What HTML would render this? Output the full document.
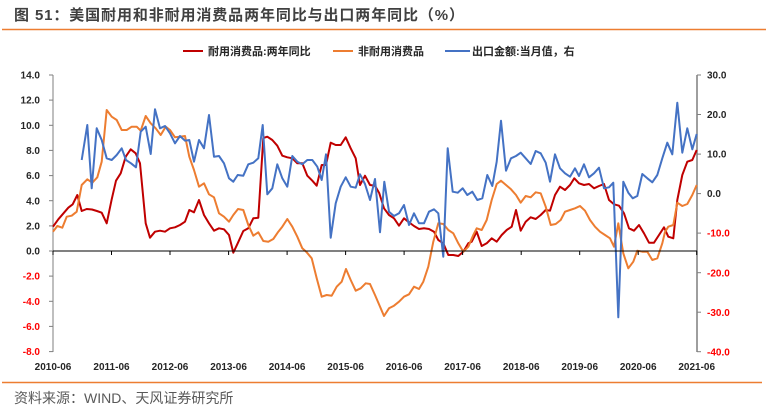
<!DOCTYPE html>
<html><head><meta charset="utf-8"><style>
html,body{margin:0;padding:0;background:#fff;}
svg{display:block;}
text{font-family:"Liberation Sans","Noto Sans CJK SC",sans-serif;}
</style></head><body>
<svg width="770" height="414" viewBox="0 0 770 414" xmlns="http://www.w3.org/2000/svg">
<rect width="770" height="414" fill="#fff"/>
<!-- title -->
<text x="14" y="20" font-size="15" font-weight="bold" fill="#404040" textLength="450" lengthAdjust="spacing">图 51：美国耐用和非耐用消费品两年同比与出口两年同比（%）</text>
<line x1="2" y1="29.5" x2="766" y2="29.5" stroke="#ed7d31" stroke-width="1.5"/>
<!-- legend -->
<line x1="183" y1="51" x2="203" y2="51" stroke="#c00000" stroke-width="2"/>
<text x="208" y="55" font-size="11" font-weight="bold" fill="#262626">耐用消费品:两年同比</text>
<line x1="333" y1="51" x2="353" y2="51" stroke="#ed7d31" stroke-width="2"/>
<text x="358" y="55" font-size="11" font-weight="bold" fill="#262626">非耐用消费品</text>
<line x1="445" y1="51" x2="470" y2="51" stroke="#4472c4" stroke-width="2"/>
<text x="472" y="55" font-size="11" font-weight="bold" fill="#262626">出口金额:当月值，右</text>

<!-- left axis -->
<line x1="53" y1="75" x2="53" y2="352" stroke="#7f7f7f" stroke-width="1"/>
<g stroke="#7f7f7f" stroke-width="1">
<line x1="49" y1="75" x2="53" y2="75"/><line x1="49" y1="100.1" x2="53" y2="100.1"/><line x1="49" y1="125.3" x2="53" y2="125.3"/><line x1="49" y1="150.4" x2="53" y2="150.4"/><line x1="49" y1="175.6" x2="53" y2="175.6"/><line x1="49" y1="200.7" x2="53" y2="200.7"/><line x1="49" y1="225.9" x2="53" y2="225.9"/><line x1="49" y1="251" x2="53" y2="251"/><line x1="49" y1="276.1" x2="53" y2="276.1"/><line x1="49" y1="301.3" x2="53" y2="301.3"/><line x1="49" y1="326.4" x2="53" y2="326.4"/><line x1="49" y1="351.6" x2="53" y2="351.6"/>
</g>
<g font-size="10" font-weight="bold" text-anchor="end">
<text x="40" y="78.6" fill="#262626">14.0</text>
<text x="40" y="103.7" fill="#262626">12.0</text>
<text x="40" y="128.9" fill="#262626">10.0</text>
<text x="40" y="154" fill="#262626">8.0</text>
<text x="40" y="179.2" fill="#262626">6.0</text>
<text x="40" y="204.3" fill="#262626">4.0</text>
<text x="40" y="229.5" fill="#262626">2.0</text>
<text x="40" y="254.6" fill="#262626">0.0</text>
<text x="40" y="279.7" fill="#ff0000">-2.0</text>
<text x="40" y="304.9" fill="#ff0000">-4.0</text>
<text x="40" y="330" fill="#ff0000">-6.0</text>
<text x="40" y="355.2" fill="#ff0000">-8.0</text>
</g>
<!-- right axis -->
<line x1="697" y1="75" x2="697" y2="352" stroke="#7f7f7f" stroke-width="1.5"/>
<g stroke="#7f7f7f" stroke-width="1">
<line x1="697" y1="75" x2="701" y2="75"/><line x1="697" y1="114.5" x2="701" y2="114.5"/><line x1="697" y1="154.1" x2="701" y2="154.1"/><line x1="697" y1="193.6" x2="701" y2="193.6"/><line x1="697" y1="233.1" x2="701" y2="233.1"/><line x1="697" y1="272.7" x2="701" y2="272.7"/><line x1="697" y1="312.2" x2="701" y2="312.2"/><line x1="697" y1="351.7" x2="701" y2="351.7"/>
</g>
<g font-size="10" font-weight="bold">
<text x="707" y="78.6" fill="#262626">30.0</text>
<text x="707" y="118.1" fill="#262626">20.0</text>
<text x="707" y="157.7" fill="#262626">10.0</text>
<text x="707" y="197.2" fill="#262626">0.0</text>
<text x="707" y="236.7" fill="#ff0000">-10.0</text>
<text x="707" y="276.3" fill="#ff0000">-20.0</text>
<text x="707" y="315.8" fill="#ff0000">-30.0</text>
<text x="707" y="355.3" fill="#ff0000">-40.0</text>
</g>

<!-- series -->
<g fill="none" stroke-width="2" stroke-linejoin="round">
<polyline stroke="#c00000" points="53,226.7 58.3,219.3 64,212.7 68.3,207.7 72.7,204.3 77.3,195 81.7,211 86.7,209 92,209.5 96.9,211 101.7,212.7 106.7,223.3 111.7,199.3 116,180.7 120.7,173.3 125.7,156.7 130.7,149.3 135.7,153.3 140,163.3 145.7,223.3 150,237.7 155,231.7 160,230.7 165,231.7 170,228.3 175,227.3 180,225 185,221.7 189.3,210 194,212.3 199,200 204,215 209,223.3 214,230.7 219,228.3 224,229.3 229,235 233.3,252.7 237.7,243.3 243.3,231 248.3,228.3 253.3,218.3 258.3,217.7 263.3,138 267.3,136.7 272.3,140 277.3,145.7 282.3,155.7 287.3,157.3 292.3,158.3 297.3,163.3 302.3,163.3 307.3,175.7 312.3,180.7 316.7,185.7 321.7,165 326,165 330.7,142.7 335.7,145 340.7,145 345.7,137.3 350.7,148.3 355.7,158.3 360,185 365,175.7 370,185 375,185.7 379.3,193.3 384,208.3 389,215 394,218.3 399,225.7 404,218.3 409,222.3 414,226 419,229 424,228.3 429,229 434,231.7 438.3,240 443.3,243.3 448.3,255 453.3,255 458.3,256 463.3,251.7 468.3,243.3 471.7,241.7 476.7,231.7 481.7,246 486.7,243.3 491.7,238.3 496.7,241.7 501.7,235 506.7,230 511.7,226.7 516,210 520.7,230.7 525.7,221.7 530.7,217.3 535.7,219 540.7,215 545.7,210 550,210.7 555,195 560,186.7 565,190 570,185 574.3,178.3 579,183.3 584,185 589,184 594,188.3 599,186 604,184 609,200 614,204.3 619,205.7 624,213.3 629,228.3 634,230.7 639,225 644,233.3 649,242.7 654,242.7 659,235 664,227.3 668.3,236.7 673.3,238.3 677.3,200 682.3,175 687.3,161.7 692.3,160 696.7,150"/>
<polyline stroke="#ed7d31" points="53,231.7 57.3,226 62.3,227.7 66.7,216.7 71.7,215.7 76.7,211.7 81.7,185 87.3,179.3 92.3,182.7 97.3,177.3 101.7,161.7 106.7,110 111.7,116.7 116.7,120 121.7,130 126.7,130 131.7,126.7 136.7,126.7 140.7,130.7 145.7,116 150.7,123.3 155.7,128.3 160.7,135 165.7,126.7 170,130 175,137.3 180,136.7 185,136 189.3,156.7 194,170 199,186.7 204,183.3 209,194.3 214,197.3 219,213.3 224,216.7 229,221.7 233.3,215 238,209 243.3,210 248.3,225 253.3,235.7 258.3,232.3 263.3,241 268.3,241.7 273.3,239 278.3,231.7 282.3,226.7 287.3,219 292.3,226.7 297.3,236.7 302.3,248.3 306.7,252.3 311.7,258.3 316.7,278.3 321.7,296.7 326.7,295 331.7,295.7 336.7,286.7 341.7,281.7 346,269 350.7,280 355.7,290.7 360.7,288.3 365.7,283.3 370,284 375,295 379.3,305 384,316 389,308.3 394,305.7 399,301.7 404,296.7 409,294.3 414,286.7 419,289 423.3,281.7 428.3,266.7 433.3,241.7 438.3,223.3 443.3,224 448.3,230 453.3,233.3 458.3,243.3 463.3,251.7 468.3,246.7 473.3,235 476.7,228.3 481.7,230 486.7,220 491.7,200 496.7,184 501,180.7 506,185 511,189.3 516,195 520.7,202.7 525.7,196 530.7,197.3 535.7,192.3 540.7,193.3 545.7,206.7 550.7,225 555.7,224 560.7,220 565,211.7 570,210 575,208.3 580,206 585,210.7 590,220 595,226.7 600,231.7 605,235 610,238.3 614,246.7 618.3,223.3 623.3,253.3 628.3,268.3 633.3,261.7 637.3,250.7 642.3,251.7 647.3,251.7 652.3,260 657.3,258.3 662.3,243.3 665,232 668.3,226.7 673.3,225 677.3,202.7 682.3,206 687.3,204 692.3,195 696.7,185"/>
<polyline stroke="#4472c4" points="81.7,160 87.3,125 91.7,188.3 96.7,128.3 101.7,140 106.7,158.3 111.7,160 116.7,155 121.7,148.3 126,160 131,163.3 136,167.3 140.7,131.7 145.7,126.7 150.7,154 155,109.3 160,128.3 165,126 170,133.3 175,143.3 180,136 185,140.7 189.3,140 194,161.7 199,140 204,148.3 209,115 214,156.7 219,156 224,163.3 229,178.3 233.3,181.7 237.7,175 243.3,175.7 248.3,164.3 253.3,162.7 258.3,158.3 262.7,125 267.3,194.3 272.3,188.3 277.3,164.3 282.3,178.3 287.3,186.7 292.3,156 297.3,161.7 302.3,164.3 307.3,160 312.3,160 317.3,166.7 321.7,180 326,154.3 330.7,237.7 335.7,203.3 340.7,186.7 345.7,177.3 350.7,186.7 355.7,187.7 360,174.3 365,184 370,200 375,179 380,232.3 384.3,181.7 389,211.7 394,216 399,213.3 404,205 409,225 414,213.3 419,223.3 424,223.3 429,211.7 434,209.3 438.3,213.3 443.3,256.7 447.7,148.3 452.7,191.7 457.7,192.7 462.7,188.3 467.3,195 472.3,191.7 477.3,200 482.3,198.3 487.3,175 492.3,186 496.7,161.7 501,120.7 506,170.7 511,158.3 516,156 520.7,152.7 525.7,158.3 530.7,164 535.7,151 540.7,153.3 545.7,162.7 550,181.7 555,154.3 560,168.3 565,173.3 570,176.7 575,168.3 579,176 584,164.3 589,177.3 594,173.3 599,167.7 604,188.3 609,187.3 613.3,182.7 618.3,317.3 623.3,181.7 628.3,192.7 632.7,198.3 637.3,196 642.3,174 647.3,178.3 652.3,182.3 657.3,175 662.3,158.3 667.3,142.7 672.3,154.3 677.3,102.7 682.3,152.7 687.3,128.3 692.3,149.3 696.7,134"/>
</g>

<!-- x axis -->
<line x1="53" y1="251" x2="697" y2="251" stroke="#000" stroke-width="1"/>
<g stroke="#000" stroke-width="1">
<line x1="53" y1="251" x2="53" y2="255"/><line x1="111.5" y1="251" x2="111.5" y2="255"/><line x1="170" y1="251" x2="170" y2="255"/><line x1="228.6" y1="251" x2="228.6" y2="255"/><line x1="287.1" y1="251" x2="287.1" y2="255"/><line x1="345.6" y1="251" x2="345.6" y2="255"/><line x1="404.1" y1="251" x2="404.1" y2="255"/><line x1="462.6" y1="251" x2="462.6" y2="255"/><line x1="521.2" y1="251" x2="521.2" y2="255"/><line x1="579.7" y1="251" x2="579.7" y2="255"/><line x1="638.2" y1="251" x2="638.2" y2="255"/><line x1="696.7" y1="251" x2="696.7" y2="255"/>
</g>
<g font-size="10" font-weight="bold" text-anchor="middle" fill="#262626">
<text x="53" y="370">2010-06</text>
<text x="111.5" y="370">2011-06</text>
<text x="170" y="370">2012-06</text>
<text x="228.6" y="370">2013-06</text>
<text x="287.1" y="370">2014-06</text>
<text x="345.6" y="370">2015-06</text>
<text x="404.1" y="370">2016-06</text>
<text x="462.6" y="370">2017-06</text>
<text x="521.2" y="370">2018-06</text>
<text x="579.7" y="370">2019-06</text>
<text x="638.2" y="370">2020-06</text>
<text x="696.7" y="370">2021-06</text>
</g>

<!-- footer -->
<line x1="2" y1="382.5" x2="762" y2="382.5" stroke="#ed7d31" stroke-width="1.5"/>
<text x="14" y="403" font-size="14" fill="#595959">资料来源：WIND、天风证券研究所</text>
</svg>
</body></html>
